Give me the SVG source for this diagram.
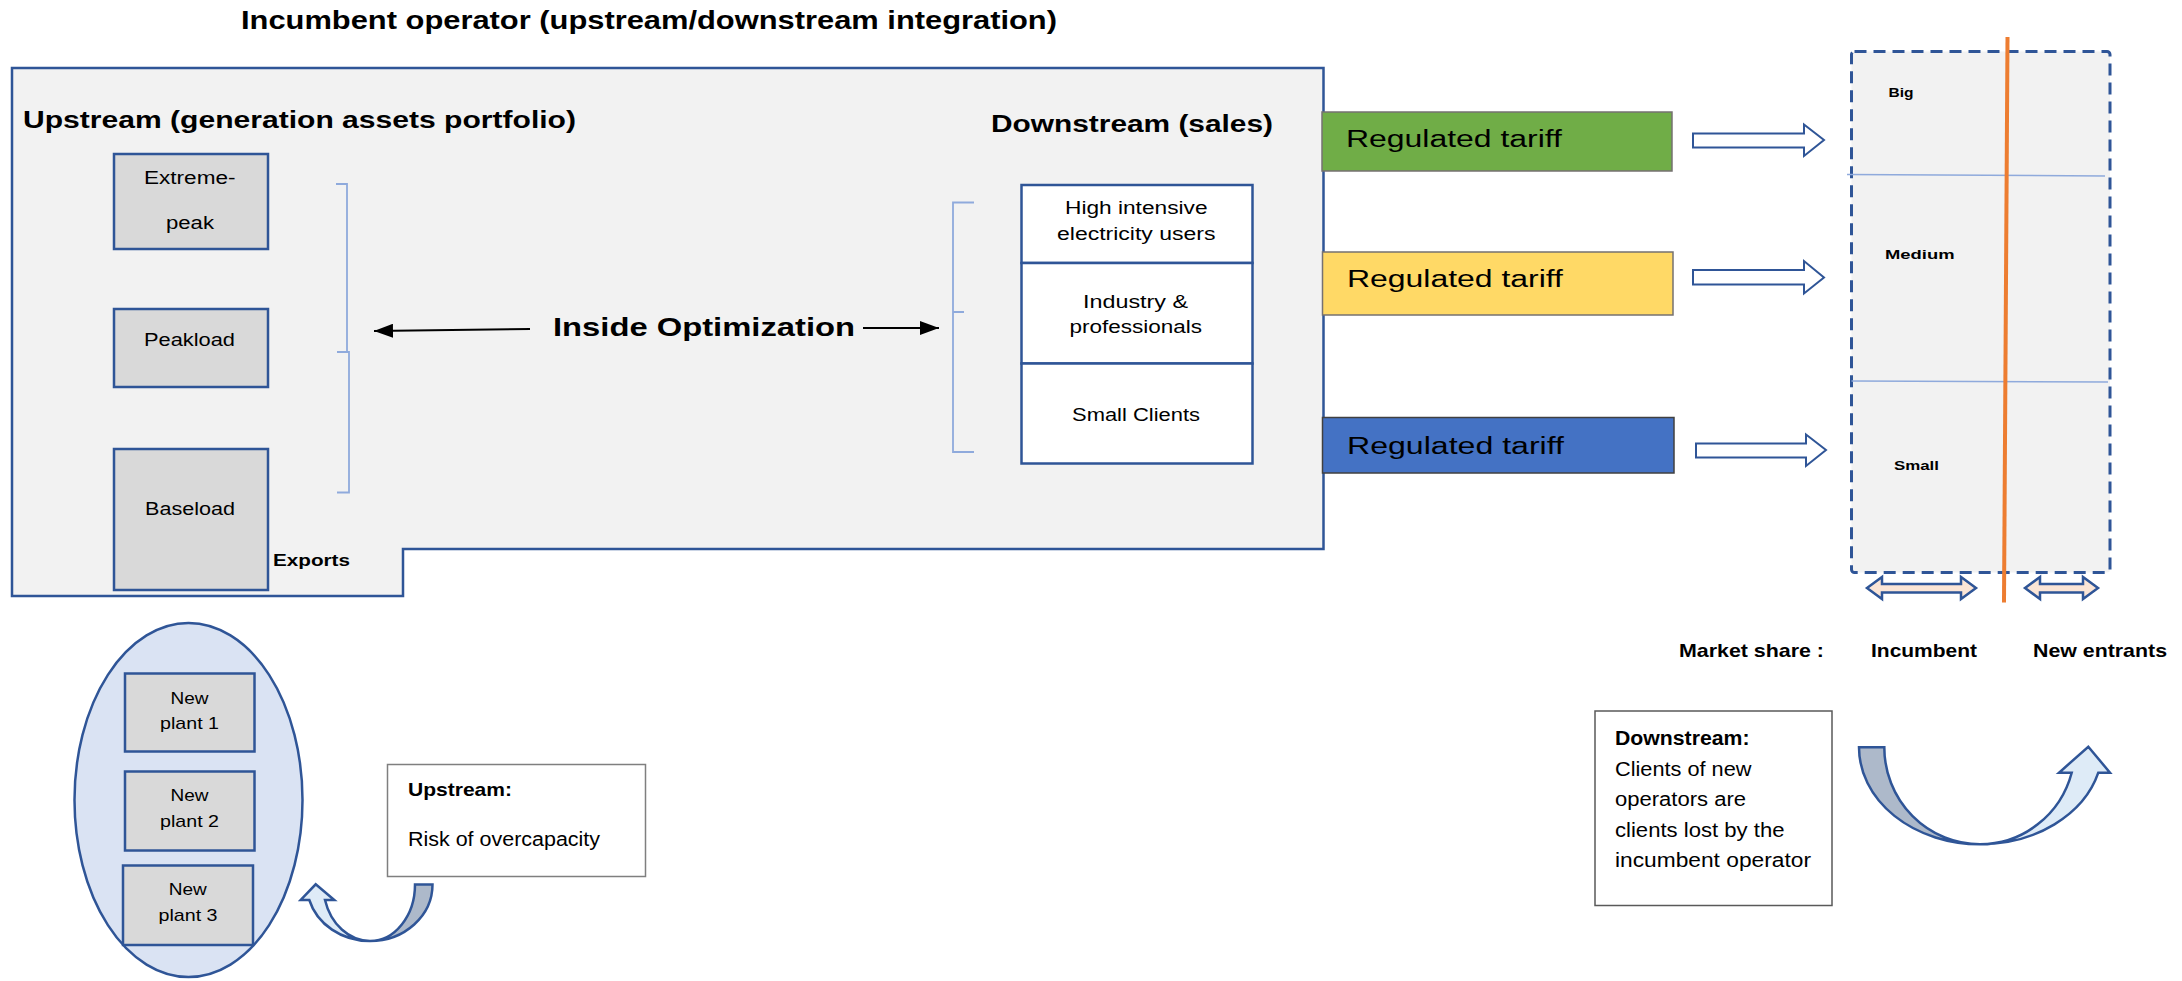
<svg xmlns="http://www.w3.org/2000/svg" width="2182" height="981" viewBox="0 0 2182 981">
<defs>
<style>
text { font-family: "Liberation Sans", Arial, sans-serif; fill: #000; }
.b { font-weight: bold; }
.gbox { fill: #d9d9d9; stroke: #2f5597; stroke-width: 2.5; }
.wbox { fill: #ffffff; stroke: #2f5597; stroke-width: 2.5; }
.brk { fill: none; stroke: #8faadc; stroke-width: 1.8; }
.blk { fill: #ffffff; stroke: #2f5597; stroke-width: 2; }
.dbl { fill: #fbe5d6; stroke: #2f5597; stroke-width: 2.5; stroke-linejoin: miter; }
.tar { stroke: #767171; stroke-width: 1.5; }
.uarrow { stroke: #2f5597; stroke-width: 2.5; stroke-linejoin: miter; }
.s17 { font-size: 17.5px; }
</style>
<marker id="ah" markerUnits="userSpaceOnUse" markerWidth="19" markerHeight="14" refX="19" refY="7" orient="auto" viewBox="0 0 19 14">
<path d="M0,0 L19,7 L0,14 Z" fill="#000"/>
</marker>
</defs>
<rect width="2182" height="981" fill="#ffffff"/>

<text id="title" class="b" x="241" y="29" font-size="25" textLength="816" lengthAdjust="spacingAndGlyphs">Incumbent operator (upstream/downstream integration)</text>

<g id="incumbent">
<polygon points="12,68 1323.5,68 1323.5,549 403,549 403,596 12,596" fill="#f2f2f2" stroke="#2f5597" stroke-width="2.5"/>
<text class="b" x="23" y="128" font-size="23.5" textLength="553" lengthAdjust="spacingAndGlyphs">Upstream (generation assets portfolio)</text>
<text class="b" x="991" y="131.5" font-size="23.5" textLength="282" lengthAdjust="spacingAndGlyphs">Downstream (sales)</text>
<text class="b" x="553" y="336" font-size="25.5" textLength="302" lengthAdjust="spacingAndGlyphs">Inside Optimization</text>
<text class="b" x="273" y="565.5" font-size="17" textLength="77" lengthAdjust="spacingAndGlyphs">Exports</text>
</g>

<g id="extreme-peak">
<rect class="gbox" x="114" y="154" width="154" height="95"/>
<text class="s17" x="144" y="184" textLength="91.5" lengthAdjust="spacingAndGlyphs">Extreme-</text>
<text class="s17" x="166" y="229" textLength="48" lengthAdjust="spacingAndGlyphs">peak</text>
</g>
<g id="peakload">
<rect class="gbox" x="114" y="309" width="154" height="78"/>
<text class="s17" x="144" y="345.5" textLength="91" lengthAdjust="spacingAndGlyphs">Peakload</text>
</g>
<g id="baseload">
<rect class="gbox" x="114" y="449" width="154" height="141"/>
<text class="s17" x="145" y="515" textLength="90" lengthAdjust="spacingAndGlyphs">Baseload</text>
</g>

<g id="high-intensive">
<rect class="wbox" x="1021.5" y="185" width="231" height="78"/>
<text class="s17" x="1065" y="214" textLength="142.5" lengthAdjust="spacingAndGlyphs">High intensive</text>
<text class="s17" x="1057" y="240" textLength="158.5" lengthAdjust="spacingAndGlyphs">electricity users</text>
</g>
<g id="industry">
<rect class="wbox" x="1021.5" y="263" width="231" height="100.5"/>
<text class="s17" x="1083" y="308" textLength="105" lengthAdjust="spacingAndGlyphs">Industry &amp;</text>
<text class="s17" x="1069.5" y="332.5" textLength="132.5" lengthAdjust="spacingAndGlyphs">professionals</text>
</g>
<g id="small-clients">
<rect class="wbox" x="1021.5" y="363.5" width="231" height="100"/>
<text class="s17" x="1072" y="421" textLength="128" lengthAdjust="spacingAndGlyphs">Small Clients</text>
</g>

<g id="tariff-green">
<rect class="tar" x="1322" y="112" width="350" height="59" fill="#70ad47"/>
<text x="1346" y="147" font-size="23" textLength="216" lengthAdjust="spacingAndGlyphs">Regulated tariff</text>
</g>
<g id="tariff-yellow">
<rect class="tar" x="1322.5" y="252" width="350.5" height="63" fill="#ffd966"/>
<text x="1347" y="287" font-size="23" textLength="216" lengthAdjust="spacingAndGlyphs">Regulated tariff</text>
</g>
<g id="tariff-blue">
<rect x="1322.5" y="417.5" width="351.5" height="55.5" fill="#4472c4" stroke="#404040" stroke-width="1.5"/>
<text x="1347" y="453.5" font-size="23" textLength="217" lengthAdjust="spacingAndGlyphs">Regulated tariff</text>
</g>

<g id="market">
<rect x="1851.5" y="51.5" width="258.5" height="521" rx="3" fill="#f2f2f2" stroke="#2f5597" stroke-width="3" stroke-dasharray="12 7"/>
<path d="M1847,174.5 L2105,176 M1851.5,381 L2108,382" fill="none" stroke="#8faadc" stroke-width="1.5"/>
<path d="M2007.5,37 L2004,602.5" fill="none" stroke="#ed7d31" stroke-width="4"/>
<text class="b" x="1888.5" y="96.5" font-size="13" textLength="25" lengthAdjust="spacingAndGlyphs">Big</text>
<text class="b" x="1885" y="259" font-size="13" textLength="69.5" lengthAdjust="spacingAndGlyphs">Medium</text>
<text class="b" x="1894" y="470" font-size="13" textLength="45" lengthAdjust="spacingAndGlyphs">Small</text>
<path class="dbl" d="M1867,588 L1882,577 V584 H1961 V577 L1976,588 L1961,599 V592.5 H1882 V599 Z"/>
<path class="dbl" d="M2025,588 L2040,577 V584 H2083 V577 L2098,588 L2083,599 V592.5 H2040 V599 Z"/>
</g>
<g id="market-labels">
<text class="b" x="1679" y="656.5" font-size="18.5" textLength="145" lengthAdjust="spacingAndGlyphs">Market share :</text>
<text class="b" x="1871" y="656.5" font-size="18.5" textLength="106" lengthAdjust="spacingAndGlyphs">Incumbent</text>
<text class="b" x="2033" y="656.5" font-size="18.5" textLength="134" lengthAdjust="spacingAndGlyphs">New entrants</text>
</g>

<g id="new-plants">
<ellipse cx="188.5" cy="800" rx="114" ry="177" fill="#dae3f3" stroke="#2f5597" stroke-width="2.5"/>
</g>
<g id="new-plant-1">
<rect class="gbox" x="125" y="673.5" width="129.5" height="78"/>
<text x="170.5" y="704" font-size="17" textLength="38" lengthAdjust="spacingAndGlyphs">New</text>
<text x="160" y="729.3" font-size="17" textLength="59" lengthAdjust="spacingAndGlyphs">plant 1</text>
</g>
<g id="new-plant-2">
<rect class="gbox" x="125" y="771.5" width="129.5" height="79"/>
<text x="170.5" y="801" font-size="17" textLength="38" lengthAdjust="spacingAndGlyphs">New</text>
<text x="160" y="826.7" font-size="17" textLength="59" lengthAdjust="spacingAndGlyphs">plant 2</text>
</g>
<g id="new-plant-3">
<rect class="gbox" x="123" y="865.5" width="130" height="79.5"/>
<text x="168.7" y="895.3" font-size="17" textLength="38" lengthAdjust="spacingAndGlyphs">New</text>
<text x="158.5" y="920.7" font-size="17" textLength="59" lengthAdjust="spacingAndGlyphs">plant 3</text>
</g>

<g id="upstream-note">
<rect x="387.5" y="764.5" width="258" height="112" fill="#ffffff" stroke="#7f7f7f" stroke-width="1.5"/>
<text class="b" x="408" y="796" font-size="18.5" textLength="104" lengthAdjust="spacingAndGlyphs">Upstream:</text>
<text x="408" y="846" font-size="19.5" textLength="192" lengthAdjust="spacingAndGlyphs">Risk of overcapacity</text>
</g>

<g id="downstream-note">
<rect x="1595" y="711" width="237" height="194.5" fill="#ffffff" stroke="#595959" stroke-width="1.5"/>
<text class="b" x="1615" y="745" font-size="19.5" textLength="134.5" lengthAdjust="spacingAndGlyphs">Downstream:</text>
<text x="1615" y="775.5" font-size="19.5" textLength="136.5" lengthAdjust="spacingAndGlyphs">Clients of new</text>
<text x="1615" y="805.5" font-size="19.5" textLength="131" lengthAdjust="spacingAndGlyphs">operators are</text>
<text x="1615" y="836.5" font-size="19.5" textLength="169.5" lengthAdjust="spacingAndGlyphs">clients lost by the</text>
<text x="1615" y="867" font-size="19.5" textLength="196" lengthAdjust="spacingAndGlyphs">incumbent operator</text>
</g>

<g id="connectors">
<path class="brk" d="M336,184 H347 V352 M337,352 H349 V492.5 H337"/>
<path class="brk" d="M974,202.5 H953 V452 H974 M953,312 H964"/>
<path d="M530,329 L374,331" fill="none" stroke="#000" stroke-width="2" marker-end="url(#ah)"/>
<path d="M863,328 L939,328" fill="none" stroke="#000" stroke-width="2" marker-end="url(#ah)"/>
<path class="blk" d="M1693,133.5 H1804 V124.5 L1824,140 L1804,156 V147.5 H1693 Z"/>
<path class="blk" d="M1693,270 H1804 V261 L1824,277.5 L1804,293.5 V284.5 H1693 Z"/>
<path class="blk" d="M1696,443.5 H1806 V434.5 L1826,450 L1806,466 V457.5 H1696 Z"/>
<path class="uarrow" fill="#deebf7" d="M370,941 A63,56.5 0 0 1 309.3,900 L300.7,900 L315.7,884.3 L334.3,900 L325,900 A47,56.5 0 0 0 370,941 Z"/>
<path class="uarrow" fill="#adb9ca" d="M415,884.5 H432.5 A62.5,56.5 0 0 1 370,941 A45,56.5 0 0 0 415,884.5 Z"/>
<path class="uarrow" fill="#deebf7" d="M1980,844.3 A122.6,97 0 0 0 2098.3,772.7 L2110,772.7 L2088.3,746.7 L2059,772.7 L2071.7,772.7 A95,97 0 0 1 1980,844.3 Z"/>
<path class="uarrow" fill="#adb9ca" d="M1859,747.3 H1884.3 A95.7,97 0 0 0 1980,844.3 A121,97 0 0 1 1859,747.3 Z"/>
</g>
</svg>
